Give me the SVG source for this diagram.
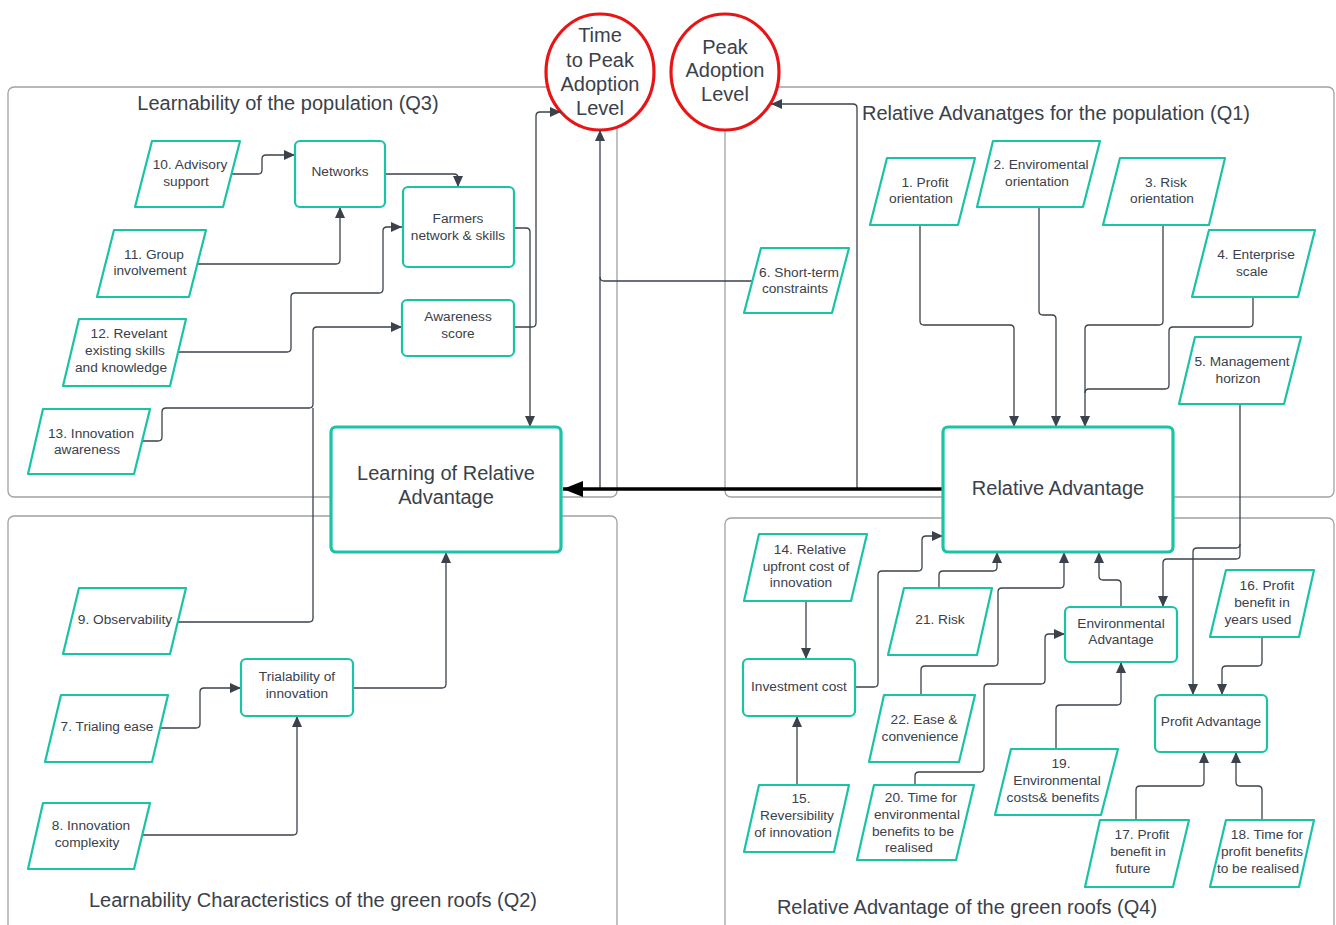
<svg xmlns="http://www.w3.org/2000/svg" width="1336" height="925" viewBox="0 0 1336 925">
<defs>
<style>
.cont{fill:none;stroke:#9ea2a7;stroke-width:1.3}
.box{fill:#fff;stroke:#19c3a6;stroke-width:2.2}
.main{fill:#fff;stroke:#19c3a6;stroke-width:3.2}
.para{fill:#fff;stroke:#19c3a6;stroke-width:2.2;stroke-linejoin:round}
.circ{fill:#fff;stroke:#e81416;stroke-width:3.2}
.t{font-family:"Liberation Sans",Arial,sans-serif;font-size:13.7px;fill:#3a414a;text-anchor:middle}
.tb{font-family:"Liberation Sans",Arial,sans-serif;font-size:20px;fill:#3a414a;text-anchor:middle}
.c{fill:none;stroke:#3b424b;stroke-width:1.3;stroke-linejoin:round}
.ca{fill:none;stroke:#3b424b;stroke-width:1.3;stroke-linejoin:round;marker-end:url(#ah)}
</style>
<marker id="ah" viewBox="0 0 11 10" refX="11" refY="5" markerWidth="11" markerHeight="10" markerUnits="userSpaceOnUse" orient="auto"><path d="M0,0 L11,5 L0,10 Z" fill="#3b424b"/></marker>
<marker id="ahb" viewBox="0 0 20 16" refX="20" refY="8" markerWidth="20" markerHeight="16" markerUnits="userSpaceOnUse" orient="auto"><path d="M0,0 L20,8 L0,16 Z" fill="#000"/></marker>
</defs>
<rect width="1336" height="925" fill="#fff"/>

<g id="containers">
<rect class="cont" x="8" y="87" width="609" height="410" rx="6"/>
<rect class="cont" x="725" y="87" width="609" height="410" rx="6"/>
<rect class="cont" x="8" y="516" width="609" height="430" rx="6"/>
<rect class="cont" x="725" y="518" width="609" height="430" rx="6"/>
<text class="tb" x="288" y="110">Learnability of the population (Q3)</text>
<text class="tb" x="1056" y="120">Relative Advanatges for the population (Q1)</text>
<text class="tb" x="313" y="907">Learnability Characteristics of the green roofs (Q2)</text>
<text class="tb" x="967" y="914">Relative Advantage of the green roofs (Q4)</text>
</g>

<g id="time-to-peak">
<ellipse class="circ" cx="600" cy="72" rx="54" ry="58"/>
<text class="tb" x="600" y="42">Time</text>
<text class="tb" x="600" y="67">to Peak</text>
<text class="tb" x="600" y="91">Adoption</text>
<text class="tb" x="600" y="115">Level</text>
</g>
<g id="peak-adoption">
<ellipse class="circ" cx="725" cy="72" rx="54" ry="58"/>
<text class="tb" x="725" y="54">Peak</text>
<text class="tb" x="725" y="77">Adoption</text>
<text class="tb" x="725" y="101">Level</text>
</g>

<g id="connectors">
<path class="ca" d="M232,174 H258 Q262,174 262,170 V159 Q262,155 266,155 H295"/>
<path class="ca" d="M385,174 H454 Q458,174 458,178 V187"/>
<path class="ca" d="M198,264 H336 Q340,264 340,260 V207"/>
<path class="ca" d="M178,352 H287 Q291,352 291,348 V297 Q291,293 295,293 H379 Q383,293 383,289 V231 Q383,227 387,227 H402"/>
<path class="ca" d="M142,441 H158 Q162,441 162,437 V412 Q162,408 166,408 H309 Q313,408 313,404 V331 Q313,327 317,327 H402"/>
<path class="c" d="M178,622 H309 Q313,622 313,618 V408"/>
<path class="ca" d="M514,228 H526 Q530,228 530,232 V427"/>
<path class="ca" d="M514,327 H532 Q536,327 536,323 V116 Q536,112 540,112 H561"/>
<path class="ca" d="M600,489 V130"/>
<path class="c" d="M752,281 H604 Q600,281 600,277"/>
<path class="ca" d="M857,489 V108 Q857,104 853,104 H771"/>
<path class="ca" d="M920,225 V321 Q920,325 924,325 H1010 Q1014,325 1014,329 V427"/>
<path class="ca" d="M1039,207 V311 Q1039,315 1043,315 H1052 Q1056,315 1056,319 V427"/>
<path class="ca" d="M1163,225 V321 Q1163,325 1159,325 H1089 Q1085,325 1085,329 V427"/>
<path class="c" d="M1253,297 V323 Q1253,327 1249,327 H1173 Q1169,327 1169,331 V385 Q1169,389 1165,389 H1089 Q1085,389 1085,393"/>
<path class="ca" d="M1240,404 V555 Q1240,559 1236,559 H1167 Q1163,559 1163,563 V607"/>
<path class="ca" d="M1240,544 Q1240,548 1236,548 H1197 Q1193,548 1193,552 V695"/>
<path class="ca" d="M806,601 V659"/>
<path class="ca" d="M797,785 V716"/>
<path class="ca" d="M855,687 H874 Q878,687 878,683 V575 Q878,571 882,571 H918 Q922,571 922,567 V540 Q922,536 926,536 H943"/>
<path class="ca" d="M939,588 V575 Q939,571 943,571 H993 Q997,571 997,567 V552"/>
<path class="ca" d="M921,695 V670 Q921,666 925,666 H994 Q998,666 998,662 V592 Q998,588 1002,588 H1060 Q1064,588 1064,584 V552"/>
<path class="ca" d="M915,785 V776 Q915,772 919,772 H980 Q984,772 984,768 V688 Q984,684 988,684 H1041 Q1045,684 1045,680 V638 Q1045,634 1049,634 H1065"/>
<path class="ca" d="M1121,607 V584 Q1121,580 1117,580 H1103 Q1099,580 1099,576 V552"/>
<path class="ca" d="M1056,749 V709 Q1056,705 1060,705 H1117 Q1121,705 1121,701 V662"/>
<path class="ca" d="M1262,637 V662 Q1262,666 1258,666 H1226 Q1222,666 1222,670 V695"/>
<path class="ca" d="M1136,820 V790 Q1136,786 1140,786 H1200 Q1204,786 1204,782 V752"/>
<path class="ca" d="M1262,820 V790 Q1262,786 1258,786 H1240 Q1236,786 1236,782 V752"/>
<path class="ca" d="M160,728 H196 Q200,728 200,724 V692 Q200,688 204,688 H241"/>
<path class="ca" d="M142,835 H293 Q297,835 297,831 V716"/>
<path class="ca" d="M353,688 H442 Q446,688 446,684 V552"/>
<path d="M943,489 H563" fill="none" stroke="#000" stroke-width="3.5" marker-end="url(#ahb)"/>
</g>

<g id="learning-ra"><rect class="main" x="331" y="427" width="230" height="125" rx="5"/>
<text class="tb" x="446" y="480">Learning of Relative</text><text class="tb" x="446" y="504">Advantage</text></g>
<g id="relative-advantage"><rect class="main" x="943" y="427" width="230" height="125" rx="5"/>
<text class="tb" x="1058" y="495">Relative Advantage</text></g>

<g id="networks"><rect class="box" x="295" y="141" width="90" height="66" rx="5"/>
<text class="t" x="340" y="175.5">Networks</text></g>
<g id="farmers"><rect class="box" x="403" y="187" width="111" height="80" rx="5"/>
<text class="t" x="458" y="222.5">Farmers</text><text class="t" x="458" y="239.5">network &amp; skills</text></g>
<g id="awareness"><rect class="box" x="402" y="300" width="112" height="56" rx="5"/>
<text class="t" x="458" y="320.5">Awareness</text><text class="t" x="458" y="337.5">score</text></g>
<g id="trialability"><rect class="box" x="241" y="659" width="112" height="57" rx="5"/>
<text class="t" x="297" y="680.5">Trialability of</text><text class="t" x="297" y="697.5">innovation</text></g>
<g id="investment"><rect class="box" x="743" y="659" width="112" height="57" rx="5"/>
<text class="t" x="799" y="690.5">Investment cost</text></g>
<g id="env-adv"><rect class="box" x="1065" y="607" width="112" height="55" rx="5"/>
<text class="t" x="1121" y="627.5">Environmental</text><text class="t" x="1121" y="644">Advantage</text></g>
<g id="profit-adv"><rect class="box" x="1155" y="695" width="112" height="57" rx="5"/>
<text class="t" x="1211" y="725.5">Profit Advantage</text></g>

<g id="p10"><polygon class="para" points="152,141 240,141 223,207 135,207"/>
<text class="t" x="190" y="168.5">10. Advisory</text><text class="t" x="186" y="185.5">support</text></g>
<g id="p11"><polygon class="para" points="114,230 206,230 189,297 97,297"/>
<text class="t" x="154" y="258.5">11. Group</text><text class="t" x="150" y="274.5">involvement</text></g>
<g id="p12"><polygon class="para" points="79,319 186,319 170,386 63,386"/>
<text class="t" x="129" y="337.5">12. Revelant</text><text class="t" x="125" y="354.5">existing skills</text><text class="t" x="121" y="371.5">and knowledge</text></g>
<g id="p13"><polygon class="para" points="43,409 150,409 134,474 28,474"/>
<text class="t" x="91" y="437.5">13. Innovation</text><text class="t" x="87" y="453.5">awareness</text></g>
<g id="p9"><polygon class="para" points="79,588 186,588 170,654 63,654"/>
<text class="t" x="125" y="624">9. Observability</text></g>
<g id="p7"><polygon class="para" points="61,695 168,695 152,762 45,762"/>
<text class="t" x="107" y="731">7. Trialing ease</text></g>
<g id="p8"><polygon class="para" points="43,803 150,803 134,869 28,869"/>
<text class="t" x="91" y="830">8. Innovation</text><text class="t" x="87" y="847">complexity</text></g>
<g id="p6"><polygon class="para" points="761,248 849,248 832,313 744,313"/>
<text class="t" x="799" y="276.5">6. Short-term</text><text class="t" x="795" y="292.5">constraints</text></g>
<g id="p1"><polygon class="para" points="887,158 975,158 958,225 870,225"/>
<text class="t" x="925" y="186.5">1. Profit</text><text class="t" x="921" y="202.5">orientation</text></g>
<g id="p2"><polygon class="para" points="993,141 1100,141 1083,207 977,207"/>
<text class="t" x="1041" y="168.5">2. Enviromental</text><text class="t" x="1037" y="185.5">orientation</text></g>
<g id="p3"><polygon class="para" points="1120,158 1225,158 1209,225 1103,225"/>
<text class="t" x="1166" y="186.5">3. Risk</text><text class="t" x="1162" y="202.5">orientation</text></g>
<g id="p4"><polygon class="para" points="1209,230 1315,230 1298,297 1192,297"/>
<text class="t" x="1256" y="258.5">4. Enterprise</text><text class="t" x="1252" y="275.5">scale</text></g>
<g id="p5"><polygon class="para" points="1195,337 1301,337 1284,404 1179,404"/>
<text class="t" x="1242" y="365.5">5. Management</text><text class="t" x="1238" y="382.5">horizon</text></g>
<g id="p14"><polygon class="para" points="759,534 867,534 851,601 744,601"/>
<text class="t" x="810" y="553.5">14. Relative</text><text class="t" x="806" y="570.5">upfront cost of</text><text class="t" x="801" y="587">innovation</text></g>
<g id="p15"><polygon class="para" points="759,785 849,785 834,852 744,852"/>
<text class="t" x="801" y="803">15.</text><text class="t" x="797" y="820">Reversibility</text><text class="t" x="793" y="837">of innovation</text></g>
<g id="p21"><polygon class="para" points="904,588 992,588 977,655 888,655"/>
<text class="t" x="940" y="624">21. Risk</text></g>
<g id="p22"><polygon class="para" points="884,695 975,695 959,762 869,762"/>
<text class="t" x="924" y="723.5">22. Ease &amp;</text><text class="t" x="920" y="740.5">convenience</text></g>
<g id="p20"><polygon class="para" points="874,785 974,785 956,860 857,860"/>
<text class="t" x="921" y="802">20. Time for</text><text class="t" x="917" y="818.5">environmental</text><text class="t" x="913" y="835.5">benefits to be</text><text class="t" x="909" y="852">realised</text></g>
<g id="p19"><polygon class="para" points="1011,749 1118,749 1101,815 995,815"/>
<text class="t" x="1061" y="768">19.</text><text class="t" x="1057" y="785">Environmental</text><text class="t" x="1053" y="801.5">costs&amp; benefits</text></g>
<g id="p16"><polygon class="para" points="1226,570 1314,570 1299,637 1210,637"/>
<text class="t" x="1267" y="589.5">16. Profit</text><text class="t" x="1262" y="606.5">benefit in</text><text class="t" x="1258" y="623.5">years used</text></g>
<g id="p17"><polygon class="para" points="1100,820 1189,820 1173,887 1085,887"/>
<text class="t" x="1142" y="838.5">17. Profit</text><text class="t" x="1138" y="855.5">benefit in</text><text class="t" x="1133" y="872.5">future</text></g>
<g id="p18"><polygon class="para" points="1226,820 1314,820 1299,887 1210,887"/>
<text class="t" x="1267" y="838.5">18. Time for</text><text class="t" x="1262" y="855.5">profit benefits</text><text class="t" x="1258" y="872.5">to be realised</text></g>
</svg>
